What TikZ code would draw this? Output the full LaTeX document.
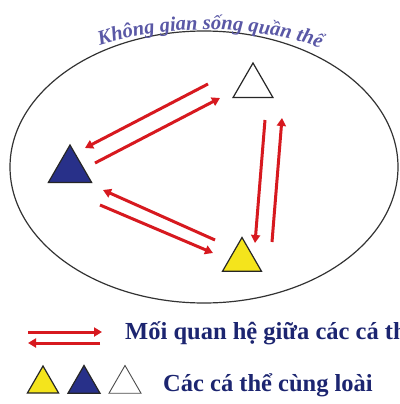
\documentclass[tikz,border=0pt]{standalone}
\usepackage{fontspec}
\newfontfamily\vnserif{Liberation Serif}
\usetikzlibrary{shapes.geometric,arrows.meta,decorations.text}
\definecolor{relred}{HTML}{D7191F}
\definecolor{indblue}{HTML}{283089}
\definecolor{indyellow}{HTML}{F4E41C}
\definecolor{legnavy}{HTML}{1C2570}
\definecolor{ttlblue}{HTML}{5A58A6}
\begin{document}
\begin{tikzpicture}[x=1pt,y=-1pt,
 indiv/.style={regular polygon,regular polygon sides=3,draw=black!85,line width=1.2pt,inner sep=0pt},
 rel/.style={draw=relred,line width=3pt,-{Triangle[length=8pt,width=9pt]}},
 legtxt/.style={anchor=base west,text=legnavy,font=\vnserif\bfseries\fontsize{24.5}{27}\selectfont,inner sep=0pt}
]
 \useasboundingbox[fill=white] (0,0) rectangle (399,404);
 \draw[black!80,line width=1.2pt] (204,167) ellipse [x radius=194,y radius=136];
 \path[postaction={decorate},decoration={text along path,text align=center,text color=ttlblue,
  text={|\vnserif\bfseries\itshape\fontsize{20.5}{24}\selectfont|Không gian sống quần thể}}]
  (84,51) .. controls (160,22) and (260,22) .. (336,54);
 \node[indiv,fill=white,minimum size=46pt] (wht) at (253,86) {};
 \node[indiv,fill=indblue,minimum size=50pt] (blu) at (70,170) {};
 \node[indiv,fill=indyellow,minimum size=45pt] (ylw) at (242,260) {};
 \draw[rel] ([shift={(-45,-2)}]wht.center) -- ([shift={(15,-22)}]blu.center);
 \draw[rel] ([shift={(25,-7)}]blu.center) -- ([shift={(-33,12)}]wht.center);
 \draw[rel] ([shift={(12,34)}]wht.center) -- ([shift={(13,-17)}]ylw.center);
 \draw[rel] ([shift={(30,-18)}]ylw.center) -- ([shift={(29,32)}]wht.center);
 \draw[rel] ([shift={(-27,-20)}]ylw.center) -- ([shift={(33,20)}]blu.center);
 \draw[rel] ([shift={(30,35)}]blu.center) -- ([shift={(-29,-7)}]ylw.center);
 \node[legtxt] (lgrel) at (125,339) {Mối quan hệ giữa các cá thể};
 \draw[rel] ([shift={(-97,-7)}]lgrel.base west) -- ([shift={(-23,-7)}]lgrel.base west);
 \draw[rel] ([shift={(-25,4)}]lgrel.base west) -- ([shift={(-97,4)}]lgrel.base west);
 \node[indiv,fill=indyellow,minimum size=36pt] (lyel) at (43,384) {};
 \node[indiv,fill=indblue,minimum size=37pt] (lblu) at (84,384) {};
 \node[indiv,fill=white,draw=black!70,line width=0.9pt,minimum size=37pt] (lwht) at (125,384) {};
 \node[legtxt] (lgind) at (163,391) {Các cá thể cùng loài};
\end{tikzpicture}
\end{document}
